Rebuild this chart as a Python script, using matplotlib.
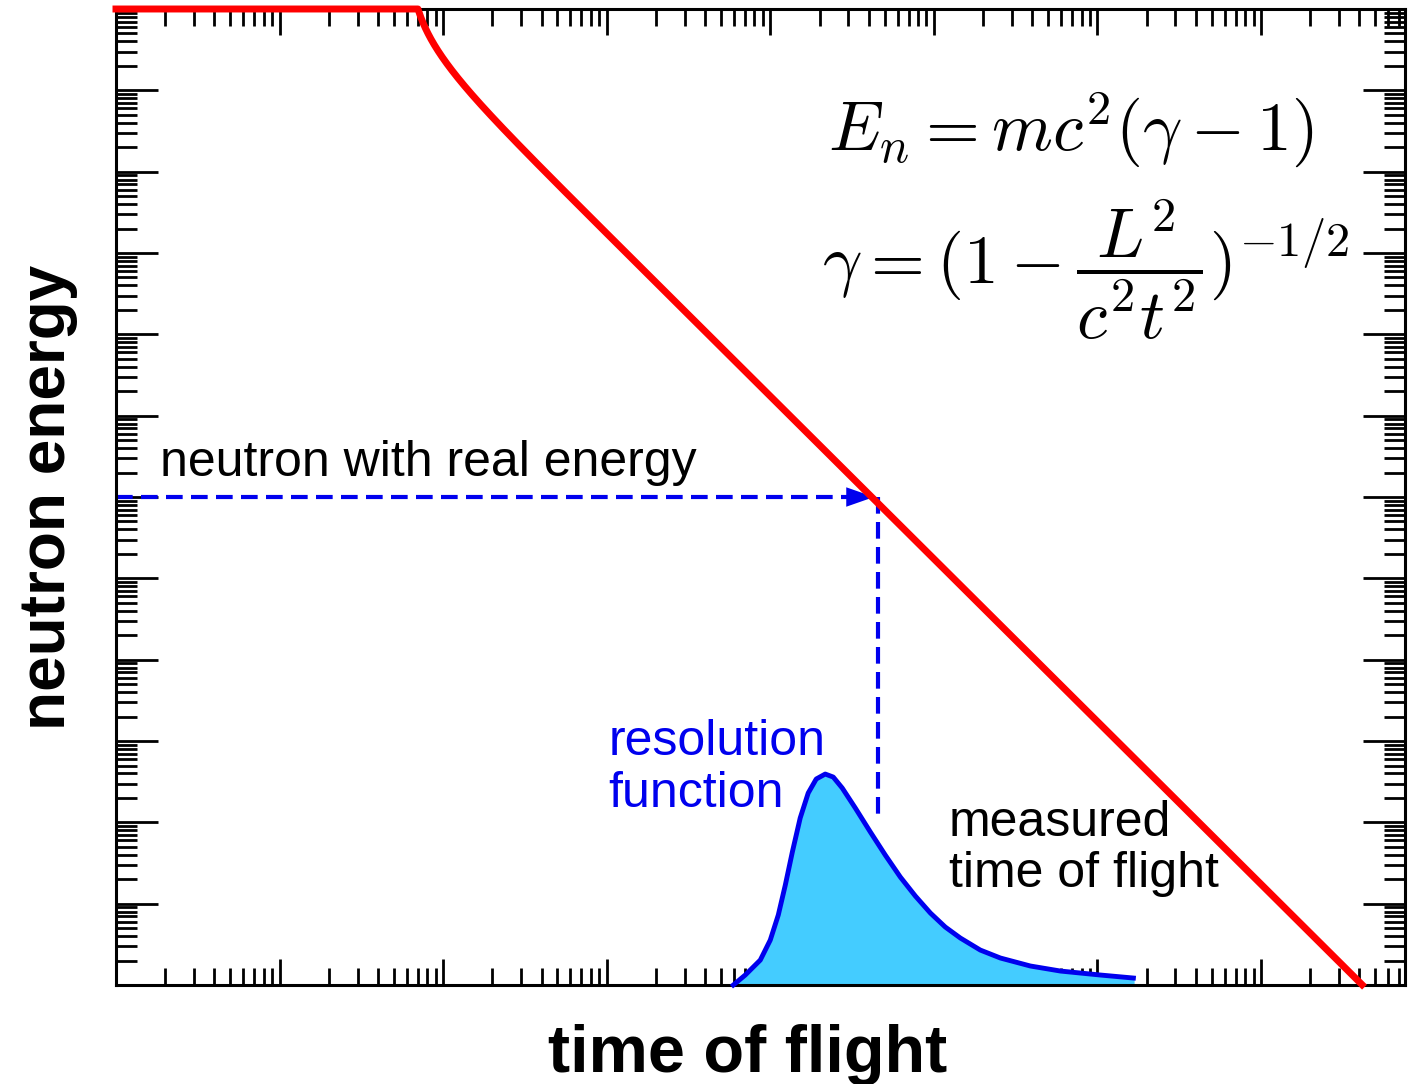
import numpy as np
import matplotlib.pyplot as plt
from matplotlib.ticker import LogLocator, NullFormatter

plt.rcParams['font.family'] = ['Liberation Sans', 'DejaVu Sans']
plt.rcParams['mathtext.fontset'] = 'cm'

# kinematic curve parameters (log10 units, arbitrary)
log_t0 = 1.79        # light travel time
log_half_mc2 = 11.66 # mc^2/2
e_max = 1e12

# real neutron energy marker
t_real = 10**4.66
e_real = 1e6
e_vline_end = 1e2

# resolution function (log10 t, log10 E)
res_logt = [3.774, 3.847, 3.939, 4.000, 4.049, 4.092, 4.135, 4.183, 4.232, 4.281, 4.336, 4.385, 4.440,
            4.520, 4.612, 4.703, 4.795, 4.887, 4.979, 5.070, 5.162, 5.284, 5.407, 5.590, 5.774, 6.018, 6.220]
res_logE = [0.000, 0.123, 0.307, 0.553, 0.861, 1.230, 1.636, 2.054, 2.361, 2.533, 2.594, 2.557, 2.422,
            2.176, 1.881, 1.598, 1.328, 1.094, 0.885, 0.713, 0.578, 0.430, 0.332, 0.234, 0.172, 0.123, 0.086]

fig = plt.figure(figsize=(14.11, 10.84), dpi=100)
ax = fig.add_axes([0.0822, 0.0913, 0.9135, 0.9004])
ax.set_xscale('log')
ax.set_yscale('log')
ax.set_xlim(1, 10**7.88)
ax.set_ylim(1, 1e12)

mc2 = 2 * 10**log_half_mc2
t = np.logspace(0, 7.7, 3000)
t0 = 10**log_t0
ratio = np.clip(t0 / t, 0, 1 - 1e-12)
gamma = 1 / np.sqrt(1 - ratio**2)
E = np.minimum(mc2 * (gamma - 1), e_max)
keep = E >= 1
ax.plot(t[keep], E[keep], color='#ff0000', lw=5, clip_on=False, zorder=5)

rt = 10**np.array(res_logt)
rE = 10**np.array(res_logE)
ax.fill_between(rt, rE, 1, color='#44ccff', zorder=2)
ax.plot(rt, rE, color='#0000ee', lw=3.5, zorder=3, clip_on=False)

dash = (0, (4, 2))
ax.plot([1, t_real * 0.8], [e_real, e_real], color='#0000ee', lw=3, ls=dash)
ax.annotate('', xy=(t_real * 0.98, e_real), xytext=(t_real * 0.6, e_real),
            arrowprops=dict(arrowstyle='-|>,head_length=2.0,head_width=0.7', color='#0000ee', lw=0))
ax.plot([t_real, t_real], [e_real, e_vline_end], color='#0000ee', lw=3, ls=dash)

ax.text(10**0.27, 10**6.42, 'neutron with real energy', fontsize=36, va='center')
ax.text(10**3.01, 10**2.67, 'resolution\nfunction', fontsize=36, color='#0000ee', va='center', linespacing=1.15)
ax.text(10**5.09, 10**1.68, 'measured\ntime of flight', fontsize=36, va='center', linespacing=1.15)
ax.text(10**4.355, 10**10.51, r'$E_n = mc^2(\gamma - 1)$', fontsize=50, ha='left', va='center')
ax.text(10**4.318, 10**8.79, r'$\gamma = (1 - \dfrac{L^2}{c^2t^2})^{-1/2}$', fontsize=50, ha='left', va='center')

for axis in (ax.xaxis, ax.yaxis):
    axis.set_major_locator(LogLocator(base=10, numticks=30))
    axis.set_minor_locator(LogLocator(base=10, subs=np.arange(2, 10), numticks=30))
    axis.set_major_formatter(NullFormatter())
    axis.set_minor_formatter(NullFormatter())
ax.tick_params(which='both', direction='in', top=True, right=True, width=2)
ax.tick_params(axis='x', which='major', length=19)
ax.tick_params(axis='x', which='minor', length=12)
ax.tick_params(axis='y', which='major', length=30)
ax.tick_params(axis='y', which='minor', length=15)
for s in ax.spines.values():
    s.set_linewidth(2.2)

ax.set_xlabel('time of flight', fontsize=48, fontweight='bold')
ax.set_ylabel('neutron energy', fontsize=46, fontweight='bold', labelpad=24)
ax.xaxis.set_label_coords(0.49, -0.04, transform=ax.transAxes)
ax.xaxis.label.set_va('top')

fig.savefig('out.png', dpi=100)
